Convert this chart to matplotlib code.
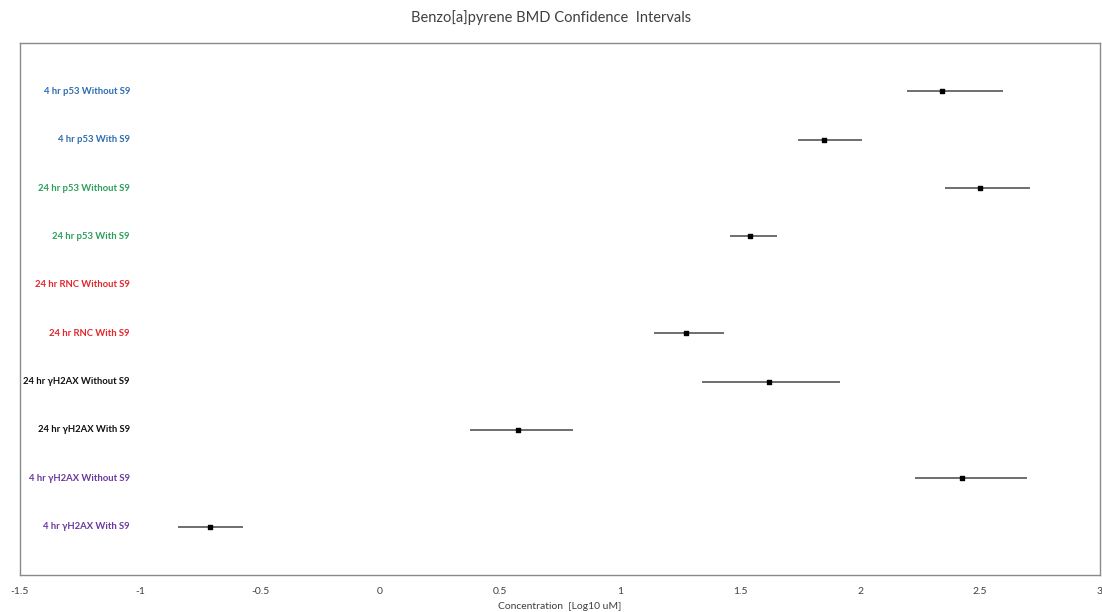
import matplotlib
matplotlib.use("Agg")
import matplotlib.pyplot as plt
import numpy as np

categories = [
    "4 hr p53 Without S9",
    "4 hr p53 With S9",
    "24 hr p53 Without S9",
    "24 hr p53 With S9",
    "24 hr RNC Without S9",
    "24 hr RNC With S9",
    "24 hr \u03b3H2AX Without S9",
    "24 hr \u03b3H2AX With S9",
    "4 hr \u03b3H2AX Without S9",
    "4 hr \u03b3H2AX With S9",
]
bmd = [2.34, 1.85, 2.50, 1.54, np.nan, 1.275, 1.62, 0.575, 2.425, -0.71]
bmdl = [2.195, 1.74, 2.355, 1.458, np.nan, 1.142, 1.342, 0.375, 2.229, -0.842]
bmdu = [2.596, 2.008, 2.708, 1.654, np.nan, 1.433, 1.917, 0.804, 2.696, -0.571]
label_colors = ["#2E6DB0", "#2E6DB0", "#2E9E5B", "#2E9E5B", "#E3262B", "#E3262B",
                "#111111", "#111111", "#6A3A9E", "#6A3A9E"]
xticks = [-1.5, -1, -0.5, 0, 0.5, 1, 1.5, 2, 2.5, 3]
xticklabels = ["-1.5", "-1", "-0.5", "0", "0.5", "1", "1.5", "2", "2.5", "3"]

plt.rcParams['font.family'] = ['Lato', 'DejaVu Sans']

W, H = 1102, 612
fig = plt.figure(figsize=(W / 100, H / 100), dpi=100)
ax = fig.add_axes([20 / W, (H - 575) / H, 1080 / W, 532 / H])

n = len(categories)
ypos = np.arange(n, 0, -1)

ax.hlines(ypos, bmdl, bmdu, color="#6e6e6e", lw=1.4, zorder=2)
ax.scatter(bmd, ypos, marker="s", s=8, color="black", zorder=3)

for y, lab, c in zip(ypos, categories, label_colors):
    ax.text(-1.042, y, lab, ha="right", va="center", color=c,
            fontsize=6.8, fontweight="bold")

ax.set_xlim(-1.5, 3)
ax.set_ylim(0, n + 1)
ax.set_yticks([])
ax.set_xticks(xticks)
ax.set_xticklabels(xticklabels, fontsize=7.5, color="#404040")
ax.tick_params(axis="x", length=0, pad=9)
for s in ax.spines.values():
    s.set_color("#8a8a8a")
    s.set_linewidth(1.0)

ax.set_xlabel("Concentration  [Log10 uM]", fontsize=7.5, color="#404040", labelpad=4)
fig.text(0.5, 1 - 18 / H, "Benzo[a]pyrene BMD Confidence  Intervals",
         ha="center", va="center", fontsize=10.5, color="#404040")

fig.savefig("out.png", dpi=100, facecolor="white")
